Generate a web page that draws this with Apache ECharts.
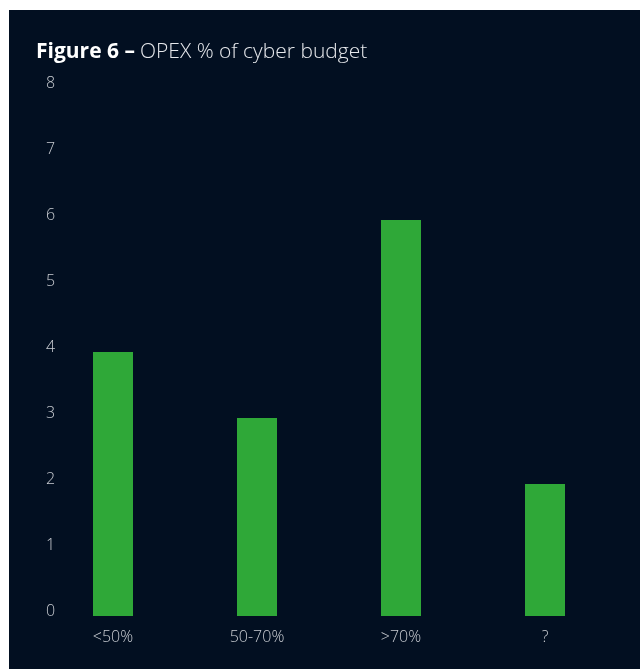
<!DOCTYPE html>
<html>
<head>
<meta charset="utf-8">
<script src="https://cdn.jsdelivr.net/npm/echarts@6/dist/echarts.min.js"></script>
<style>
  html, body { margin: 0; padding: 0; background: #ffffff; width: 640px; height: 669px; overflow: hidden; }
  #chart { position: absolute; left: 9px; top: 10px; width: 631px; height: 659px; }
</style>
</head>
<body>
<div id="chart"></div>
<script>
// OPEX share of the cyber budget: number of respondents per band
const categories = ['<50%', '50-70%', '>70%', '?'];
const respondents = [4, 3, 6, 2];
const yTicks = [0, 1, 2, 3, 4, 5, 6, 7, 8];

const chart = echarts.init(document.getElementById('chart'));
chart.setOption({
  backgroundColor: '#020f21',
  animation: false,
  title: {
    left: 22,
    top: 27,
    text: '{b|Figure 6 –} {n|OPEX % of cyber budget}',
    textStyle: {
      rich: {
        b: { fontFamily: 'Open Sans', fontWeight: 'bold', fontSize: 21, color: '#ffffff' },
        n: { fontFamily: 'Open Sans', fontWeight: 300, fontSize: 21, color: '#e6e8ec' }
      }
    }
  },
  grid: { left: 32, right: 23, top: 78, bottom: 53 },
  xAxis: {
    type: 'category',
    data: categories,
    axisLine: { show: false },
    axisTick: { show: false },
    axisLabel: {
      margin: 13,
      fontFamily: 'Open Sans',
      fontWeight: 300,
      fontSize: 16,
      color: '#c9ccd2'
    }
  },
  yAxis: {
    type: 'value',
    min: yTicks[0],
    max: yTicks[yTicks.length - 1],
    interval: 1,
    splitLine: { show: false },
    axisLine: { show: false },
    axisTick: { show: false },
    axisLabel: {
      inside: true,
      margin: 5,
      verticalAlign: 'bottom',
      lineHeight: 10,
      fontFamily: 'Open Sans',
      fontWeight: 300,
      fontSize: 16,
      color: '#c9ccd2'
    }
  },
  series: [{
    type: 'bar',
    data: respondents,
    barWidth: 40,
    itemStyle: { color: '#2fa838' }
  }]
});
</script>
</body>
</html>
